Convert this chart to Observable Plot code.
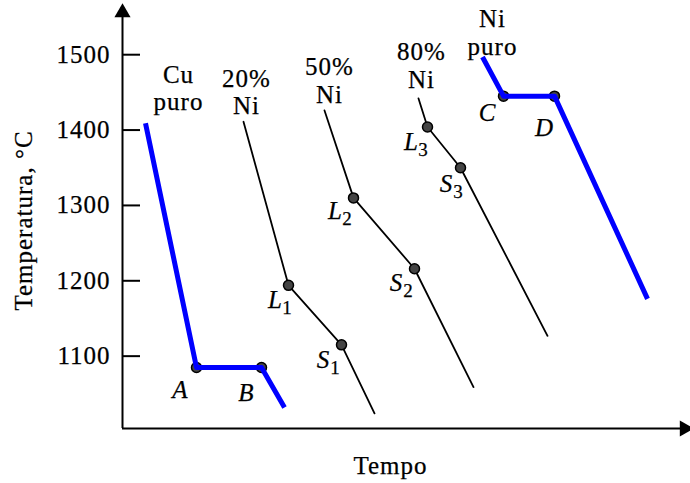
<!DOCTYPE html>
<html>
<head>
<meta charset="utf-8">
<script src="https://cdn.jsdelivr.net/npm/d3@7"></script>
<script src="https://cdn.jsdelivr.net/npm/@observablehq/plot@0.6"></script>
<style>
  html, body { margin: 0; padding: 0; background: #fff; }
  svg text { font-family: "Liberation Serif", serif; letter-spacing: 1px; stroke: #000; stroke-width: 0.25px; }
</style>
</head>
<body>
<div id="chart"></div>
<script>
// Series (cooling curves): time (arbitrary units) and temperature (°C)
const seriesNames = ["Cu puro", "20% Ni", "50% Ni", "80% Ni", "Ni puro"];
const seriesPure  = [true, false, false, false, true];
const cuTime   = [23, 74, 139, 162];
const cuTemp   = [1409, 1085, 1085, 1032];
const ni20Time = [121, 166, 219, 252];
const ni20Temp = [1411, 1194, 1115, 1024];
const ni50Time = [202, 231, 292, 351];
const ni50Temp = [1426, 1310, 1216, 1059];
const ni80Time = [296, 305, 338, 425];
const ni80Temp = [1442, 1404, 1350, 1127];
const niTime   = [360, 381, 432, 525];
const niTemp   = [1497, 1445, 1445, 1176];
const seriesTimes = [cuTime, ni20Time, ni50Time, ni80Time, niTime];
const seriesTemps = [cuTemp, ni20Temp, ni50Temp, ni80Temp, niTemp];

// Series name labels (two lines) anchored at last-line baseline
const nameLabelText = ["Cu\npuro", "20%\nNi", "50%\nNi", "80%\nNi", "Ni\npuro"];
const nameLabelTime = [56, 124, 207, 299, 370];
const nameLabelTemp = [1426, 1421, 1436, 1456, 1500];

// Point labels
const ptLetter = ["A", "B", "C", "D", "L", "S", "L", "S", "L", "S"];
const ptSub    = ["", "", "", "", "1", "1", "2", "2", "3", "3"];
const ptTime   = [58, 124, 365, 422, 153, 201, 213, 274, 289, 324];
const ptTemp   = [1045, 1041, 1412, 1392, 1164, 1084, 1282, 1186, 1373, 1318];

// Axis
const yTicks = [1100, 1200, 1300, 1400, 1500];
const xDomain = [0, 568];
const yDomain = [1004, 1556];

// Build tables
const rows = [];
const circles = [];
seriesNames.forEach((name, i) => {
  seriesTimes[i].forEach((t, j) => {
    const r = {series: name, pure: seriesPure[i], time: t, temp: seriesTemps[i][j]};
    rows.push(r);
    if (j === 1 || j === 2) circles.push(r);
  });
});
const nameLabels = nameLabelText.map((s, i) => ({text: s, time: nameLabelTime[i], temp: nameLabelTemp[i]}));
const ptLabels = ptLetter.map((s, i) => ({letter: s, sub: ptSub[i], time: ptTime[i], temp: ptTemp[i]}));

const chart = Plot.plot({
  width: 690,
  height: 483,
  marginLeft: 122,
  marginRight: 0,
  marginTop: 12,
  marginBottom: 55,
  x: {domain: xDomain, axis: null},
  y: {domain: yDomain, axis: null},
  style: {fontFamily: "Liberation Serif", background: "#fff", overflow: "visible"},
  marks: [
    // axes lines
    Plot.ruleX([xDomain[0]], {stroke: "#000", strokeWidth: 2}),
    Plot.ruleY([yDomain[0]], {stroke: "#000", strokeWidth: 2}),
    Plot.dot([{time: xDomain[0], temp: yDomain[1]}], {x: "time", y: "temp", symbol: "triangle", r: 6, fill: "#000"}),
    Plot.dot([{time: xDomain[1], temp: yDomain[0]}], {x: "time", y: "temp", symbol: "triangle", r: 6, fill: "#000", rotate: 90, dx: -6}),
    // y ticks (inward)
    Plot.ruleY(yTicks, {x1: xDomain[0], x2: xDomain[0] + 18, stroke: "#000", strokeWidth: 2}),
    Plot.text(yTicks, {x: xDomain[0], y: d => d, text: d => String(d), textAnchor: "end", dx: -12, fontSize: 25, fill: "#000"}),
    // axis titles
    Plot.text(["Temperatura, °C"], {frameAnchor: "left", textAnchor: "middle", rotate: -90, dx: -99, fontSize: 25, fill: "#000"}),
    Plot.text(["Tempo"], {frameAnchor: "bottom", textAnchor: "middle", dx: -16, dy: 45, lineAnchor: "bottom", fontSize: 25, fill: "#000"}),
    // alloy curves
    Plot.line(rows.filter(d => !d.pure), {x: "time", y: "temp", z: "series", stroke: "#000", strokeWidth: 1.8}),
    // points
    Plot.dot(circles, {x: "time", y: "temp", r: 5, fill: "#444", stroke: "#000", strokeWidth: 1.5}),
    // pure metal curves
    Plot.line(rows.filter(d => d.pure), {x: "time", y: "temp", z: "series", stroke: "#0000ff", strokeWidth: 5, strokeLinecap: "butt", strokeLinejoin: "round"}),
    // series labels
    Plot.text(nameLabels, {x: "time", y: "temp", text: "text", lineAnchor: "bottom", lineHeight: 1.1, fontSize: 25, fill: "#000"}),
    // point labels
    Plot.text(ptLabels, {x: "time", y: "temp", text: "letter", lineAnchor: "bottom", fontSize: 25, fontStyle: "italic", fill: "#000"}),
    Plot.text(ptLabels, {x: "time", y: "temp", text: "sub", lineAnchor: "bottom", fontSize: 19, dx: 12, dy: 6, fill: "#000"})
  ]
});
document.getElementById("chart").appendChild(chart);
</script>
</body>
</html>
